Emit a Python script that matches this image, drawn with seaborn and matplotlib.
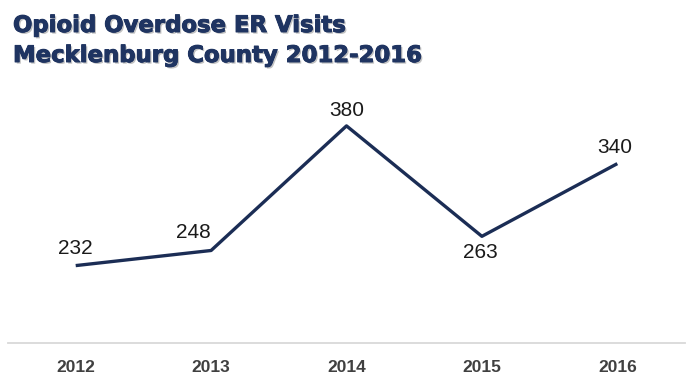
import matplotlib
matplotlib.use("Agg")
import matplotlib.pyplot as plt
import matplotlib.patheffects as pe
import seaborn as sns
import pandas as pd

years = ["2012", "2013", "2014", "2015", "2016"]
visits = [232, 248, 380, 263, 340]
label_dx = [0, -13, 0, -1, -2]
label_dy = [12.2, 13, 11, -11.5, 11.5]

title_line1 = "Opioid Overdose ER Visits"
title_line2 = "Mecklenburg County 2012-2016"

sns.set_theme(style="white")
plt.rcParams['font.family'] = ['Liberation Sans', 'DejaVu Sans']

df = pd.DataFrame({"year": years, "visits": visits})

fig = plt.figure(figsize=(7.0, 3.82), dpi=100)
ax = fig.add_axes([8/700, (382-343)/382, 677/700, (343-107)/382])

navy = "#1b2d55"
sns.lineplot(data=df, x="year", y="visits", ax=ax, color=navy, linewidth=2.4,
             sort=False, solid_capstyle="butt")

ax.set_xlim(-0.5, 4.5)
ax.set_ylim(150, 400)
for s in ["top", "right", "left"]:
    ax.spines[s].set_visible(False)
ax.spines["bottom"].set_color("#d9d9d9")
ax.spines["bottom"].set_linewidth(1.3)
ax.set_yticks([])
ax.set_xlabel("")
ax.set_ylabel("")
ax.tick_params(axis="x", length=0, pad=12)
for t in ax.get_xticklabels():
    t.set_fontweight("bold")
    t.set_fontsize(12.5)
    t.set_color("#404040")
    t.set_family(['Liberation Sans', 'DejaVu Sans'])

val_font = ['Liberation Sans Narrow', 'Liberation Sans', 'DejaVu Sans']
for i, v in enumerate(visits):
    ax.annotate(str(v), (i, v), xytext=(label_dx[i], label_dy[i]), textcoords="offset points",
                ha="center", va="center", fontsize=15, color="#1a1a1a", family=val_font)

shadow = [pe.withSimplePatchShadow(offset=(1.2, -1.2), shadow_rgbFace="#9a9a9a", alpha=0.6),
          pe.withStroke(linewidth=0.7, foreground="#1f3461")]
for txt, ypx in [(title_line1, 32), (title_line2, 62)]:
    fig.text(13/700, 1 - ypx/382, txt, fontsize=16.4, fontweight="bold", color="#1f3461",
             ha="left", va="baseline", family=['DejaVu Sans'], path_effects=shadow)

fig.savefig("out.png", dpi=100, facecolor="white")
